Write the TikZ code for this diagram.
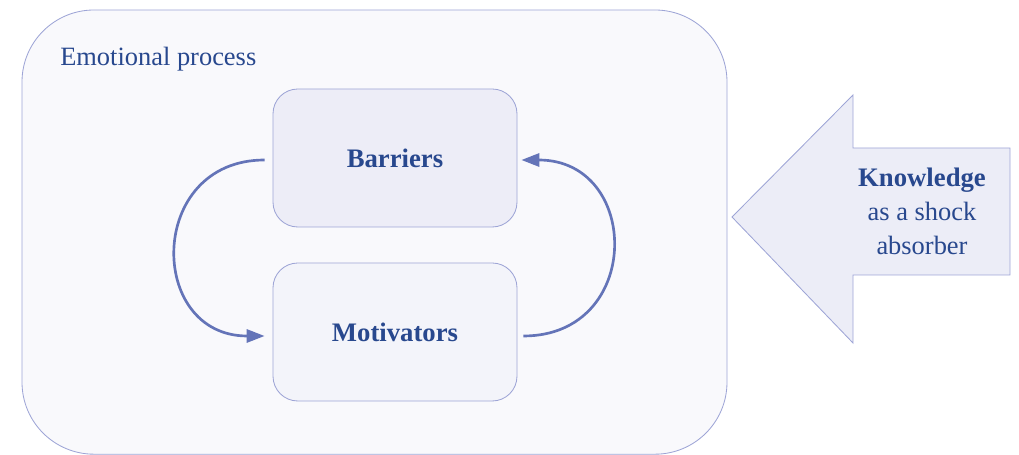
\documentclass[tikz,border=0pt]{standalone}
\usepackage{fontspec}
\setmainfont{Liberation Serif}
\usetikzlibrary{arrows.meta}
\definecolor{ink}{RGB}{40,72,142}
\definecolor{flowc}{RGB}{100,116,184}
\definecolor{edge}{RGB}{158,165,214}
\definecolor{outerfill}{RGB}{249,249,252}
\definecolor{barfill}{RGB}{237,237,247}
\definecolor{motfill}{RGB}{243,244,250}
\definecolor{shockfill}{RGB}{236,237,247}
\begin{document}
\begin{tikzpicture}[
    txt/.style={text=ink, font=\fontsize{18.8}{24.2}\selectfont},
    stage/.style={draw=edge, line width=0.6pt, rounded corners=0.62cm,
        minimum width=6.1cm, minimum height=3.45cm, text=ink,
        font=\fontsize{19}{24}\selectfont\bfseries},
    flow/.style={draw=flowc, line width=1.9pt,
        -{Triangle[length=0.45cm,width=0.33cm]}}]
    \useasboundingbox (0,0) rectangle (25.475,11.375);
    % outer emotional process frame
    \draw[edge, fill=outerfill, line width=0.6pt, rounded corners=1.8cm]
        (0.55,0.02) rectangle (18.175,11.125);
    \node[txt, anchor=base west, inner sep=0pt] (emo) at (1.5,9.725) {Emotional process};
    \node[stage, fill=barfill] (bar) at (9.875,7.425) {Barriers};
    \node[stage, fill=motfill] (mot) at (9.875,3.075) {Motivators};
    \draw[flow] ([xshift=-0.2cm,yshift=-0.05cm]bar.west) .. controls +(-2.95,0) and +(-2.95,0) .. ([xshift=-0.2cm,yshift=-0.1cm]mot.west);
    \draw[flow] ([xshift=0.15cm,yshift=-0.1cm]mot.east) .. controls +(3.0,0) and +(3.0,0) .. ([xshift=0.1cm,yshift=-0.05cm]bar.east);
    % knowledge arrow
    \draw[edge, fill=shockfill, line width=0.6pt]
        (18.3,5.95) -- (21.325,9.0) -- (21.325,7.675) -- (25.25,7.675)
        -- (25.25,4.5) -- (21.325,4.5) -- (21.325,2.8) -- cycle;
    \node[txt, align=center] (know) at (23.05,6.1) {\textbf{\fontsize{19}{24.2}\selectfont Knowledge}\\as a shock\\absorber};
\end{tikzpicture}
\end{document}
